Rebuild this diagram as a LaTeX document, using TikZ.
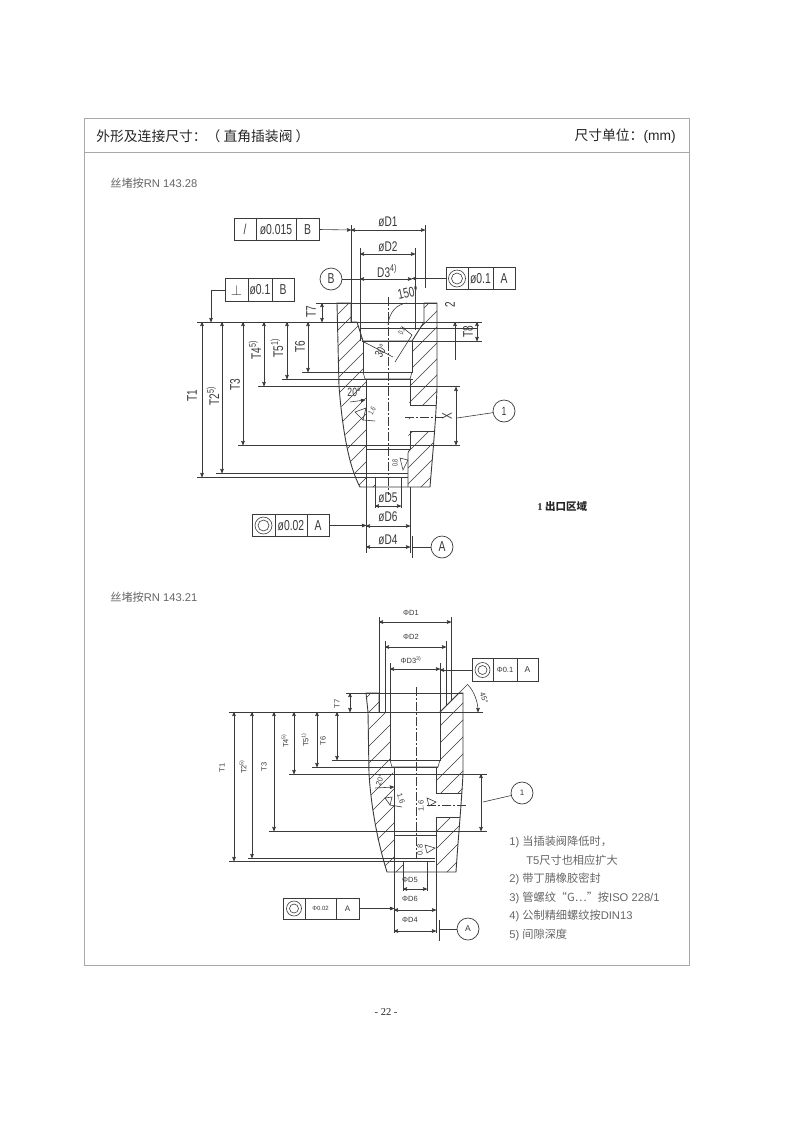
\documentclass[tikz,border=0pt]{standalone}
\usepackage{fontspec}
\usepackage{tikz}
\usetikzlibrary{arrows}
\setmainfont{Liberation Sans}
\newfontfamily\cjk{Noto Sans CJK SC}
\newfontfamily\pagefont{Liberation Serif}
\definecolor{inkclr}{HTML}{3A3A3A}
\definecolor{frameclr}{HTML}{A8A8A8}
\definecolor{softclr}{HTML}{666666}
\newcommand{\nrw}[1]{\scalebox{.72}[1]{#1}}
\tikzset{
	bold/.style={line width=.9pt},
	hatch/.style={line width=.5pt},
	axisln/.style={line width=.5pt,dash pattern=on 9pt off 2pt on 2pt off 2pt},
	bigdim/.style={font=\fontsize{14}{14}\selectfont,inner sep=0pt},
	smalldim/.style={font=\fontsize{7.5}{8}\selectfont,inner sep=0pt},
	headtxt/.style={font=\fontsize{13.8}{15}\selectfont,text=black!85,inner sep=0pt},
	notetxt/.style={font=\fontsize{11.2}{12}\selectfont,text=softclr,inner sep=0pt,anchor=west},
	gdt/.style={draw,minimum height=22.5pt,inner sep=0pt,line width=.6pt},
	callout/.style={draw,circle,minimum size=22pt,inner sep=0pt,line width=.7pt},
	ring/.style={draw,circle,inner sep=0pt,line width=.6pt}
}
\begin{document}
\begin{tikzpicture}[>=stealth',x=1pt,y=-1pt,color=inkclr,line width=.6pt]
	\useasboundingbox[fill=white](0,0)rectangle(800,1130);
	\draw[frameclr,line width=.9pt](84,118)rectangle(689,965);
	\draw[frameclr,line width=.9pt](84,152)--(689,152);
	\node[headtxt,anchor=west](title)at(96,136){\cjk 外形及连接尺寸：（ 直角插装阀 ）};
	\node[headtxt,anchor=east](unit)at(676,136){{\cjk 尺寸单位：}(mm)};
	\node[notetxt](sub1)at(110,183){{\cjk 丝堵按}RN 143.28};
	\node[notetxt](sub2)at(110,597){{\cjk 丝堵按}RN 143.21};
	\node[inner sep=0pt,anchor=west,font=\fontsize{10.5}{12}\selectfont,text=black!85](zone)at(537,506){\pagefont\bfseries 1 {\cjk\bfseries 出口区域}};
	\node[inner sep=0pt,font=\fontsize{10.5}{12}\selectfont,text=black!85](page)at(386,1012){\pagefont - 22 -};
	\node[notetxt](n1)at(509,842){1) {\cjk 当插装阀降低时，}};
	\node[notetxt](n1b)at(526,860){T5{\cjk 尺寸也相应扩大}};
	\node[notetxt](n2)at(509,879){2) {\cjk 带丁腈橡胶密封}};
	\node[notetxt](n3)at(509,898){3) {\cjk 管螺纹“G…”按}ISO 228/1};
	\node[notetxt](n4)at(509,916){4) {\cjk 公制精细螺纹按}DIN13};
	\node[notetxt](n5)at(509,935){5) {\cjk 间隙深度}};

	\begin{scope}
		\clip(337,303)--(351,303)--(351,322)--(357,322)--(363,341)--(363,379)--(366,379)--(366,477)--(375,477)--(375,487)--(360,487)--(350,463)--(343,420)--(339,386)--cycle;
		\foreach \h in {340,356,...,860}
			\draw[hatch](\h,280)--(\h-220,500);
	\end{scope}
	\begin{scope}
		\clip(424,303)--(437,303)--(437,387)--(436,405)--(410,405)--(410,431)--(434,431)--(430,487)--(408,487)--(408,449)--(410,379)--(412,372)--(412,341)--(424,322)--cycle;
		\foreach \h in {340,356,...,860}
			\draw[hatch](\h,280)--(\h-220,500);
	\end{scope}
	\draw[bold](351,322)--(351,303)--(337,303)--(339,386)..controls(342,425)and(348,465)..(360,487)--(430,487)..controls(433,450)and(436,420)..(437,387)--(437,303)--(424,303)--(424,322);
	\draw[bold](351,322)--(357,322)--(363,341)--(412,341)--(424,322);
	\draw[bold](363,341)--(363,372)--(412,372)--(412,341);
	\draw(363,372)--(365,379)--(410,379)--(412,372);
	\draw[bold](366,379)--(366,553);
	\draw[bold](410,379)--(410,405);
	\draw(410,405)--(436,405);
	\draw(410,431)--(434,431);
	\draw[bold](410,431)--(410,449);
	\draw(410,449)--(366,449);
	\draw(410,449)--(408,453)--(408,487);
	\draw[axisln](388,297)--(388,495);
	\draw[axisln](405,417)--(443,417);

	\draw(351,225)--(351,322);
	\draw(425,225)--(425,288);
	\draw(360,248)--(360,341);
	\draw(415,248)--(415,330);
	\draw[<->](351,230)--(425,230);
	\draw[<->](360,254)--(415,254);
	\draw[<->](360,279)--(412,279);
	\node[bigdim](d1)at(388,222){\nrw{øD1}};
	\node[bigdim](d2)at(388,247){\nrw{øD2}};
	\node[bigdim](d3)at(387,271){\nrw{D3\textsuperscript{4)}}};

	\draw(316,303)--(437,303);
	\draw(197,322)--(482,322);
	\draw(360,328)--(477,328);
	\draw(362,341)--(482,341);
	\draw(302,372)--(413,372);
	\draw(282,379)--(413,379);
	\draw(258,386)--(460,386);
	\draw(238,445)--(460,445);
	\draw(216,473)--(408,473);
	\draw(197,477)--(408,477);
	\draw[<->](202,322)--(202,477);
	\draw[<->](222,322)--(222,473);
	\draw[<->](243,322)--(243,445);
	\draw[<->](264,322)--(264,386);
	\draw[<->](287,322)--(287,379);
	\draw[<->](308,322)--(308,372);
	\draw[<->](322,303)--(322,322);
	\draw[<->](477,322)--(477,341);
	\draw[<-](455,322)--(455,360);
	\draw[<->](456,387)--(456,445);
	\node[bigdim,rotate=90](t1a)at(192,396){\nrw{T1}};
	\node[bigdim,rotate=90](t2a)at(213,396){\nrw{T2\textsuperscript{5)}}};
	\node[bigdim,rotate=90](t3a)at(235,385){\nrw{T3}};
	\node[bigdim,rotate=90](t4a)at(255,350){\nrw{T4\textsuperscript{5)}}};
	\node[bigdim,rotate=90](t5a)at(277,348){\nrw{T5\textsuperscript{1)}}};
	\node[bigdim,rotate=90](t6a)at(300,347){\nrw{T6}};
	\node[bigdim,rotate=90](t7a)at(311,312){\nrw{T7}};
	\node[bigdim,rotate=90](t8a)at(468,332){\nrw{T8}};
	\node[bigdim,rotate=90](two)at(450,305){\nrw{2}};
	\node[bigdim,rotate=90](xa)at(447,416){\nrw{X}};

	\draw(388,325)..controls(389,312)and(397,304)..(407,303);
	\node[bigdim,rotate=12](ang150)at(408,293){\nrw{150°}};
	\draw(362,341)--(393,357);
	\node[font=\fontsize{12}{12}\selectfont,inner sep=0pt,rotate=60](ang30)at(381,351){\nrw{30°}};
	\draw(395,362)--(412,335);
	\draw(402,327)--(412,335);
	\node[smalldim,rotate=60](ra1)at(402,331){\nrw{0.8}};
	\node[font=\fontsize{12}{12}\selectfont,inner sep=0pt](ang20)at(354,392){\nrw{20°}};
	\draw[->](350,402)--(365,400);
	\draw(355,412)--(366,408)--(363,420)--cycle;
	\draw(363,420)--(375,421);
	\node[smalldim,rotate=60](ra2)at(372,411){\nrw{1.6}};
	\draw(400,458)--(408,460)--(403,470)--cycle;
	\node[smalldim,rotate=90](ra3)at(395,463){\nrw{0.8}};

	\draw(375,477)--(375,508);
	\draw(401,477)--(401,508);
	\draw[bold](410,487)--(410,553);
	\draw[<->](375,506)--(401,506);
	\draw[<->](366,526)--(410,526);
	\draw[<->](366,547)--(410,547);
	\node[bigdim](d5)at(388,498){\nrw{øD5}};
	\node[bigdim](d6)at(388,517){\nrw{øD6}};
	\node[bigdim](d4)at(388,540){\nrw{øD4}};

	\node[gdt,minimum width=22pt](fa1)at(245,229.5){\Large\nrw{/}};
	\node[gdt,minimum width=40pt](fa2)at(276,229.5){\nrw{\Large ø0.015}};
	\node[gdt,minimum width=23pt](fa3)at(307.5,229.5){\nrw{\Large B}};
	\node[gdt,minimum width=23pt](fb1)at(236.5,290){\Large$\perp$};
	\node[gdt,minimum width=24pt](fb2)at(260,290){\nrw{\Large ø0.1}};
	\node[gdt,minimum width=22pt](fb3)at(283,290){\nrw{\Large B}};
	\node[gdt,minimum width=22pt](fc1)at(457,278.5){};
	\node[ring,minimum size=17pt](fc1o)at(457,278.5){};
	\node[ring,minimum size=11pt](fc1i)at(457,278.5){};
	\node[gdt,minimum width=25pt](fc2)at(480.5,278.5){\nrw{\Large ø0.1}};
	\node[gdt,minimum width=22pt](fc3)at(504,278.5){\nrw{\Large A}};
	\node[gdt,minimum width=23pt](fd1)at(263.5,525.5){};
	\node[ring,minimum size=17pt](fd1o)at(263.5,525.5){};
	\node[ring,minimum size=11pt](fd1i)at(263.5,525.5){};
	\node[gdt,minimum width=32pt](fd2)at(291,525.5){\nrw{\Large ø0.02}};
	\node[gdt,minimum width=22pt](fd3)at(318,525.5){\nrw{\Large A}};
	\node[callout](cb)at(331,279){\nrw{\Large B}};
	\node[callout](ca)at(442,547){\nrw{\Large A}};
	\node[callout](c1a)at(504,411){\nrw{\large 1}};
	\coordinate(tickb)at(360,279);
	\coordinate(ticka)at(412,547);
	\draw(360,267)--(360,289);
	\draw(412,536)--(412,558);
	\draw(cb)--(tickb);
	\draw(ca)--(ticka);
	\draw(c1a)--(457,418);
	\draw[->](fa3.east)--(351,230);
	\draw[->](fc1.west)--(412,278.5);
	\draw[->](fd3.east)--(366,525.5);
	\draw[->](fb1.west)--(211,290)--(211,322);

	\begin{scope}
		\clip(366,693)--(379,693)--(379,712)--(390,712)--(390,767)--(394,774)--(394,862)--(403,862)--(403,872)--(387,872)--(377,837)--(370,787)--(368,712)--cycle;
		\foreach \h in {360,377,...,900}
			\draw[hatch](\h,670)--(\h-220,890);
	\end{scope}
	\begin{scope}
		\clip(459,693)--(463,693)--(463,774)--(462,793)--(436,793)--(436,817)--(460,817)--(456,872)--(436,872)--(436,774)--(440,767)--(440,712)--cycle;
		\foreach \h in {360,377,...,900}
			\draw[hatch](\h,670)--(\h-220,890);
	\end{scope}
	\draw[bold](379,712)--(379,693)--(366,693)--(368,712)--(369,774)..controls(371,805)and(377,840)..(387,872)--(456,872)..controls(458,840)and(461,810)..(463,774)--(463,693)--(459,693)--(440,712);
	\draw[bold](379,712)--(440,712);
	\draw[bold](390,712)--(390,760)--(440,760)--(440,712);
	\draw(390,760)--(392,767)--(438,767)--(440,760);
	\draw[bold](394,767)--(394,933);
	\draw[bold](436,767)--(436,793);
	\draw(436,793)--(462,793);
	\draw(436,817)--(460,817);
	\draw[bold](436,817)--(436,933);
	\draw(394,835)--(436,835);
	\draw[axisln](416,687)--(416,858);
	\draw[axisln](427,805)--(467,805);

	\draw(379,617)--(379,712);
	\draw(451,617)--(451,700);
	\draw(385,641)--(385,712);
	\draw(446,641)--(446,705);
	\draw(390,663)--(390,712);
	\draw(440,663)--(440,712);
	\draw[<->](379,622)--(451,622);
	\draw[<->](385,647)--(446,647);
	\draw[<->](390,669)--(440,669);
	\node[smalldim](d1b)at(411,613){ΦD1};
	\node[smalldim](d2b)at(411,637){ΦD2};
	\node[smalldim](d3b)at(411,660){ΦD3\textsuperscript{3)}};

	\draw(346,693)--(463,693);
	\draw(229,712)--(483,712);
	\draw(332,760)--(440,760);
	\draw(312,767)--(438,767);
	\draw(289,774)--(487,774);
	\draw(269,831)--(487,831);
	\draw(248,858)--(435,858);
	\draw(229,861)--(435,861);
	\draw[<->](234,712)--(234,861);
	\draw[<->](252,712)--(252,858);
	\draw[<->](274,712)--(274,831);
	\draw[<->](294,712)--(294,774);
	\draw[<->](317,712)--(317,767);
	\draw[<->](337,712)--(337,760);
	\draw[<->](350,693)--(350,712);
	\draw[<->](481,774)--(481,831);
	\node[smalldim,rotate=90](t1b)at(222,768){T1};
	\node[smalldim,rotate=90](t2b)at(243,767){T2\textsuperscript{5)}};
	\node[smalldim,rotate=90](t3b)at(264,767){T3};
	\node[smalldim,rotate=90](t4b)at(285,741){T4\textsuperscript{5)}};
	\node[smalldim,rotate=90](t5b)at(305,740){T5\textsuperscript{1)}};
	\node[smalldim,rotate=90](t6b)at(323,741){T6};
	\node[smalldim,rotate=90](t7b)at(337,704){T7};

	\draw[->](468,685)..controls(474,691)and(478,702)..(478,712);
	\draw(440,712)--(468,684);
	\node[smalldim,rotate=-70](ang45)at(484,698){45°};
	\node[smalldim,rotate=70](ang20b)at(380,780){20°};
	\draw[->](375,788)--(394,787);
	\draw(385,798)--(392,797)--(390,805)--cycle;
	\draw(390,805)--(402,807);
	\node[smalldim,rotate=-70](rb1)at(401,799){1.6};
	\draw(427,798)--(436,802)--(429,806)--cycle;
	\node[smalldim,rotate=90](rb2)at(421,806){1.6};
	\draw(425,845)--(435,848)--(427,853)--cycle;
	\node[smalldim,rotate=90](rb3)at(420,850){0.8};

	\draw(403,862)--(403,891);
	\draw(427,862)--(427,891);
	\draw[<->](403,889)--(427,889);
	\draw[<->](394,910)--(436,910);
	\draw[<->](394,931)--(436,931);
	\node[smalldim](d5b)at(410,880){ΦD5};
	\node[smalldim](d6b)at(410,899){ΦD6};
	\node[smalldim](d4b)at(410,920){ΦD4};

	\node[gdt,minimum width=21pt](fe1)at(482.5,670){};
	\node[ring,minimum size=15pt](fe1o)at(482.5,670){};
	\node[ring,minimum size=9pt](fe1i)at(482.5,670){};
	\node[gdt,minimum width=24pt,font=\fontsize{7.5}{8}\selectfont](fe2)at(505,670){Φ0.1};
	\node[gdt,minimum width=21pt,font=\fontsize{8.5}{8}\selectfont](fe3)at(527.5,670){A};
	\node[gdt,minimum width=22pt,minimum height=21pt](ff1)at(294,908.5){};
	\node[ring,minimum size=15pt](ff1o)at(294,908.5){};
	\node[ring,minimum size=9pt](ff1i)at(294,908.5){};
	\node[gdt,minimum width=31pt,minimum height=21pt,font=\fontsize{6}{7}\selectfont](ff2)at(320.5,908.5){Φ0.02};
	\node[gdt,minimum width=23pt,minimum height=21pt,font=\fontsize{8}{8}\selectfont](ff3)at(347.5,908.5){A};
	\node[callout](cab)at(468,929){\fontsize{8.5}{8}\selectfont A};
	\node[callout](c1b)at(522,793){\fontsize{8}{8}\selectfont 1};
	\coordinate(tickab)at(439,929);
	\draw(439,920)--(439,941);
	\draw(cab)--(tickab);
	\draw(c1b)--(483,802);
	\draw[->](fe1.west)--(440,670);
	\draw[->](ff3.east)--(394,908.5);
\end{tikzpicture}
\end{document}
